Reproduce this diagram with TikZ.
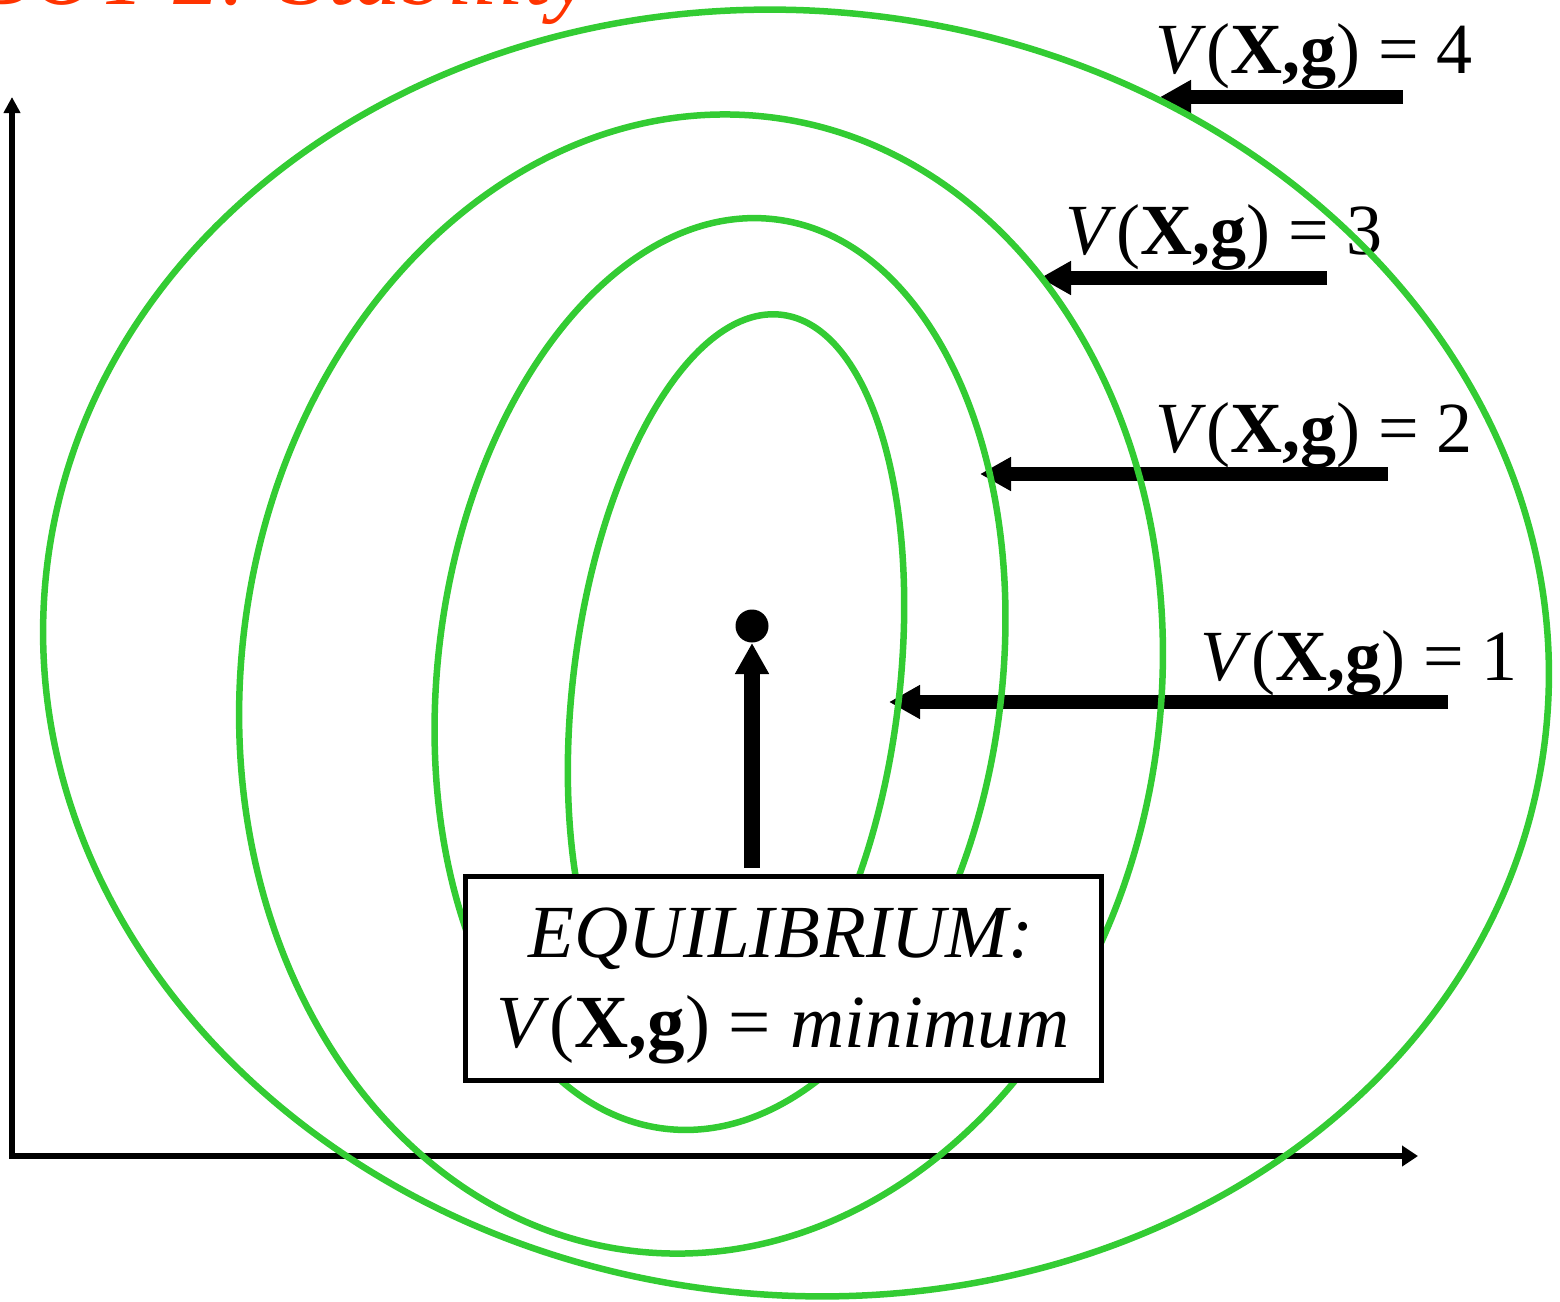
\documentclass[tikz,border=0pt]{standalone}
\usepackage{fontspec}
\setmainfont{Liberation Serif}
\usetikzlibrary{arrows.meta}
\definecolor{lvgreen}{RGB}{51,204,51}
\definecolor{titlered}{RGB}{255,51,0}
\begin{document}
\begin{tikzpicture}[x=1pt,y=-1pt,
  level/.style={draw=lvgreen,line width=6.5pt},
  fatarrow/.style={draw=black,line width=14pt,-{Triangle[length=31pt,width=32pt]}},
  axis/.style={draw=black,line width=6.5pt},
  lbl/.style={anchor=base west,inner sep=0pt,font=\fontsize{72}{86}\selectfont},
  eqbox/.style={draw=black,line width=5pt,fill=white,inner sep=0pt,minimum width=636pt,minimum height=204pt},
  boxtext/.style={anchor=base,inner sep=0pt,font=\fontsize{75}{90}\selectfont}]
\useasboundingbox (0,0) rectangle (1560,1301);
\begin{scope}
\clip (0,0) rectangle (1560,1301);
\node[anchor=base east,inner sep=0pt,text=titlered,font=\fontsize{93}{100}\selectfont\itshape] (title) at (592,4) {ROBOT 2: Stability};
\end{scope}
% axes
\coordinate (origin) at (12,1156);
\coordinate (ytop) at (12,97);
\coordinate (xend) at (1418,1156);
\draw[axis,-{Triangle[length=16pt,width=16pt]}] ([yshift=3pt]origin) -- (ytop);
\draw[axis,-{Triangle[length=16pt,width=20pt]}] ([xshift=-3pt]origin) -- (xend);
% labels
\node[lbl] (l4) at (1155,73) {\textit{V}(\textbf{X,g}) = 4};
\node[lbl] (l3) at (1065,254) {\textit{V}(\textbf{X,g}) = 3};
\node[lbl] (l2) at (1155,452) {\textit{V}(\textbf{X,g}) = 2};
\node[lbl] (l1) at (1200,680) {\textit{V}(\textbf{X,g}) = 1};
% arrows
\coordinate (t4) at (1403,97);   \coordinate (h4) at (1160,97);
\coordinate (t3) at (1327,278);  \coordinate (h3) at (1040,278);
\coordinate (t2) at (1388,474);  \coordinate (h2) at (980,474);
\coordinate (t1) at (1448,702);  \coordinate (h1) at (889,702);
\draw[fatarrow] (t4) -- (h4);
\draw[fatarrow] (t3) -- (h3);
\draw[fatarrow] (t2) -- (h2);
\draw[fatarrow] (t1) -- (h1);
% level sets
\coordinate (c1) at (736,688);
\coordinate (c2) at (720,674);
\coordinate (c3) at (701,684);
\coordinate (c4) at (796,653);
\draw[level,rotate around={-7:(c1)}] (c1) ellipse [x radius=163pt,y radius=376pt];
\draw[level,rotate around={-7:(c2)}] (c2) ellipse [x radius=282pt,y radius=458pt];
\draw[level,rotate around={-7:(c3)}] (c3) ellipse [x radius=460pt,y radius=571pt];
\draw[level,rotate around={-6:(c4)}] (c4) ellipse [x radius=754pt,y radius=642pt];
% equilibrium
\node[eqbox] (box) at (783,978) {};
\node[boxtext] (eq1) at (781,957) {\itshape EQUILIBRIUM:};
\node[boxtext] (eq2) at (783,1047) {\textit{V}(\textbf{X,g}) = \textit{minimum}};
\coordinate (vt) at (752,868);
\coordinate (vh) at (752,643);
\draw[fatarrow,line width=16pt] (vt) -- (vh);
\fill[black] (752,626) circle [radius=16.5pt] coordinate (eqpt);
\end{tikzpicture}
\end{document}
